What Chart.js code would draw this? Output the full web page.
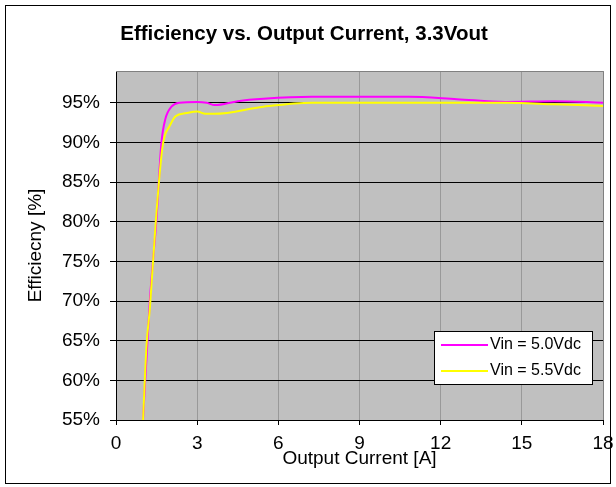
<!DOCTYPE html>
<html><head><meta charset="utf-8">
<script src="https://cdn.jsdelivr.net/npm/chart.js@4.4.1/dist/chart.umd.min.js"></script>
<style>html,body{margin:0;padding:0;background:#fff;}#wrap{width:616px;height:487px;}</style>
</head><body><div id="wrap"><canvas id="c" width="616" height="487"></canvas></div>
<script>
const chartTitle = 'Efficiency vs. Output Current, 3.3Vout';
const xTitle = 'Output Current [A]';
const yTitle = 'Efficiecny [%]';
const seriesLabels = ['Vin = 5.0Vdc', 'Vin = 5.5Vdc'];
const seriesColors = ['#FF00FF', '#FFFF00'];
const currentA = [1.0, 1.25, 1.5, 1.68, 1.82, 2.05, 2.35, 3.0, 3.35, 3.65, 4.5, 5.45, 7.25, 10.8, 12.6, 14.4, 16.2, 18.0];
const eff50 = [55.0, 70.0, 80.5, 90.0, 92.9, 94.5, 95.0, 95.1, 95.0, 94.7, 95.2, 95.5, 95.75, 95.75, 95.45, 95.1, 95.2, 95.0];
const currentB = [1.0, 1.13, 1.25, 1.47, 1.7, 1.8, 1.97, 2.2, 2.6, 3.0, 3.3, 3.65, 5.45, 7.25, 10.8, 14.4, 16.2, 18.0];
const eff55 = [55.0, 64.5, 69.0, 80.0, 89.0, 90.8, 92.0, 93.3, 93.7, 93.9, 93.6, 93.6, 94.5, 95.0, 95.0, 95.0, 94.8, 94.6];
const xTicks = [0, 3, 6, 9, 12, 15, 18];
const yTicks = [55, 60, 65, 70, 75, 80, 85, 90, 95];

const FONT = "'Liberation Sans', Arial, sans-serif";

const decor = {
  id: 'decor',
  beforeDraw(chart) {
    const ctx = chart.ctx, a = chart.chartArea;
    ctx.save();
    ctx.fillStyle = '#fff';
    ctx.fillRect(0, 0, chart.width, chart.height);
    ctx.strokeStyle = '#000';
    ctx.lineWidth = 1;
    ctx.strokeRect(5.5, 5.5, 605, 478);
    ctx.fillStyle = '#C0C0C0';
    ctx.fillRect(a.left, a.top, a.right - a.left, a.bottom - a.top);
    ctx.fillStyle = '#000';
    ctx.font = 'bold 20.5px ' + FONT;
    ctx.textAlign = 'center';
    ctx.textBaseline = 'middle';
    ctx.fillText(chartTitle, 304, 34);
    ctx.restore();
  },
  beforeDatasetsDraw(chart) {
    const ctx = chart.ctx, a = chart.chartArea;
    ctx.save();
    ctx.strokeStyle = '#808080';
    ctx.lineWidth = 1;
    ctx.beginPath();
    ctx.moveTo(a.left, a.top + 0.5);
    ctx.lineTo(a.right + 0.5, a.top + 0.5);
    ctx.lineTo(a.right + 0.5, a.bottom);
    ctx.stroke();
    ctx.restore();
  },
  afterDraw(chart) {
    const ctx = chart.ctx;
    ctx.save();
    ctx.fillStyle = '#fff';
    ctx.fillRect(434, 331, 158, 53);
    ctx.strokeStyle = '#000';
    ctx.lineWidth = 1;
    ctx.strokeRect(434.5, 331.5, 158, 53);
    ctx.font = '16px ' + FONT;
    ctx.textBaseline = 'middle';
    ctx.textAlign = 'left';
    chart.data.datasets.slice().sort((p, q) => seriesLabels.indexOf(p.label) - seriesLabels.indexOf(q.label)).forEach((ds, i) => {
      const y = 345 + i * 26;
      ctx.strokeStyle = ds.borderColor;
      ctx.lineWidth = 2;
      ctx.beginPath();
      ctx.moveTo(441, y);
      ctx.lineTo(488, y);
      ctx.stroke();
      ctx.fillStyle = '#000';
      ctx.fillText(ds.label, 490, y);
    });
    ctx.restore();
  }
};

new Chart(document.getElementById('c'), {
  type: 'line',
  data: {
    datasets: [
      { label: seriesLabels[0], data: currentA.map((x, i) => ({ x, y: eff50[i] })), borderColor: seriesColors[0], order: 1 },
      { label: seriesLabels[1], data: currentB.map((x, i) => ({ x, y: eff55[i] })), borderColor: seriesColors[1], order: 0 }
    ]
  },
  options: {
    responsive: false,
    animation: false,
    devicePixelRatio: 1,
    layout: { padding: { top: 71, right: 13, bottom: 0, left: 0 } },
    elements: {
      line: { borderWidth: 2, cubicInterpolationMode: 'monotone', fill: false },
      point: { radius: 0, hoverRadius: 0 }
    },
    plugins: { legend: { display: false }, title: { display: false }, tooltip: { enabled: false } },
    scales: {
      x: {
        type: 'linear', min: 0, max: 18,
        afterBuildTicks: s => { s.ticks = xTicks.map(v => ({ value: v })); },
        afterFit: s => { s.height = 67; s.paddingRight = 0; s.paddingLeft = 0; },
        ticks: { color: '#000', font: { family: FONT, size: 19 }, padding: 7, maxRotation: 0 },
        grid: { color: '#999999', tickColor: '#000', tickLength: 5, lineWidth: 1 },
        border: { color: '#000', width: 1 },
        title: { display: true, text: xTitle, color: '#000', font: { family: FONT, size: 19 }, padding: { top: 0, bottom: 17 } }
      },
      y: {
        type: 'linear', min: 55, max: 99,
        afterBuildTicks: s => { s.ticks = yTicks.map(v => ({ value: v })); },
        afterFit: s => { s.width = 116; },
        ticks: { color: '#000', font: { family: FONT, size: 19 }, padding: 10, callback: v => v + '%' },
        grid: { color: '#000', tickColor: '#000', tickLength: 6, lineWidth: 1 },
        border: { color: '#000', width: 1 },
        title: { display: true, text: yTitle, color: '#000', font: { family: FONT, size: 19 }, padding: { top: 24, bottom: 0 } }
      }
    }
  },
  plugins: [decor]
});
</script>
</body></html>
